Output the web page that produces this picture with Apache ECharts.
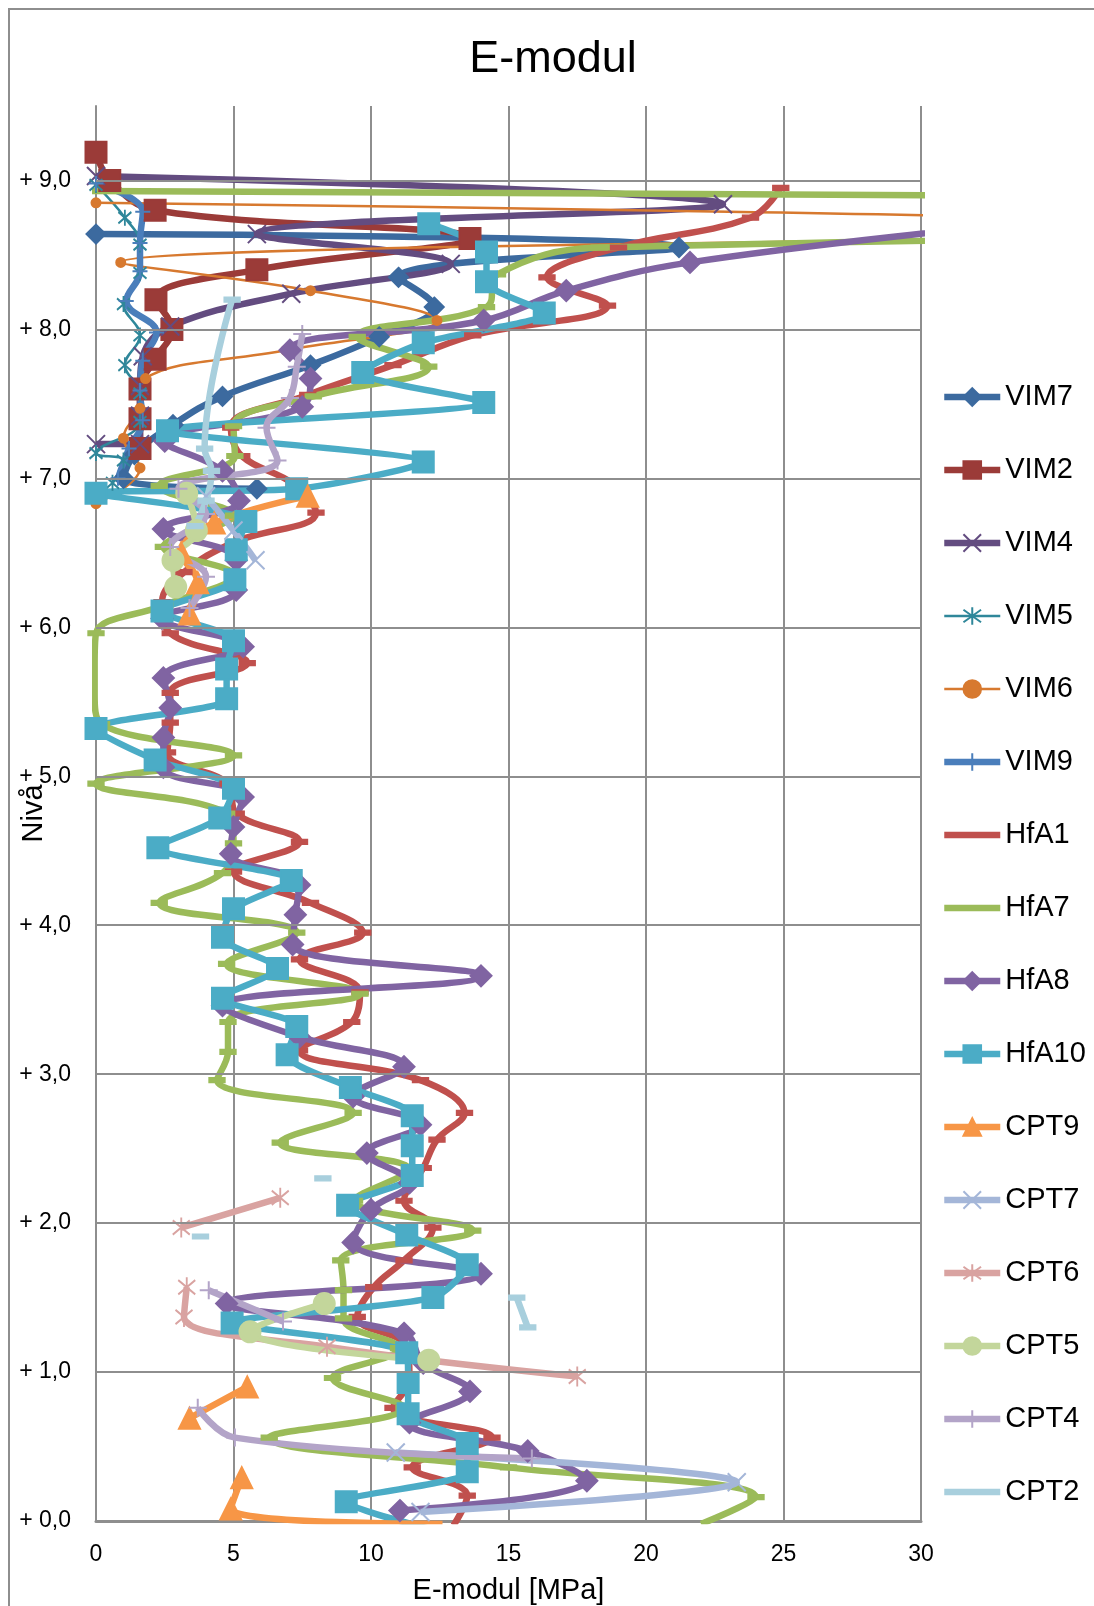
<!DOCTYPE html>
<html>
<head>
    <meta charset="UTF-8">
    <title>E-modul</title>
    <script src="https://cdn.jsdelivr.net/npm/echarts@6/dist/echarts.min.js"></script>
    <style>
        * { padding: 0; margin: 0; }
        body { background: #fff; }
        #chart { width: 1094px; height: 1606px; }
    </style>
</head>
<body>
    <div id="chart"></div>
<script>
    // E-modul [MPa] (E) against level (Z); null = break in the line
    var vim7E = [0, 21.2, 11.0, 12.3, 10.3, 7.8, 4.6, 2.8, 1.4, 1.0, 5.85];
    var vim7Z = [8.64, 8.55, 8.35, 8.15, 7.95, 7.76, 7.55, 7.36, 7.16, 7.0, 6.93];

    var vim2E = [0, 0.5, 2.15, 13.6, 5.85, 2.18, 2.76, 2.15, 1.6, 1.6, 1.6];
    var vim2Z = [9.19, 9.0, 8.8, 8.61, 8.4, 8.2, 8.0, 7.8, 7.6, 7.4, 7.2];

    var vim4E = [0, 22.8, 5.85, 12.9, 7.1, 2.7, 1.7, 1.6, 1.6, 1.6, 0];
    var vim4Z = [9.03, 8.84, 8.64, 8.44, 8.24, 8.02, 7.82, 7.62, 7.42, 7.23, 7.23];

    var vim5E = [0, 1.05, 1.6, 1.6, 1.0, 1.6, 1.05, 1.6, 1.6, 0, 1.0, 0.6];
    var vim5Z = [8.97, 8.75, 8.57, 8.38, 8.17, 7.96, 7.76, 7.57, 7.38, 7.17, 7.12, 6.97];

    var vim6E = [0, 46, 0.9, 7.8, 12.4, 6.9, 1.8, 1.6, 1.0, 1.6, 0];
    var vim6Z = [8.85, 8.67, 8.45, 8.26, 8.06, 7.86, 7.67, 7.47, 7.27, 7.07, 6.83];

    var vim9E = [0, 1.7, 1.6, 1.6, 1.1, 2.2, 1.7, 1.6, 1.7, 1.2, 0.8];
    var vim9Z = [8.98, 8.79, 8.58, 8.39, 8.19, 7.98, 7.79, 7.59, 7.39, 7.2, 7.0];

    var hfa1E = [24.9, 23.8, 19.0, 16.4, 18.6, 13.7, 10.8, 7.7, 4.9, 5.3, 7.2, 8.0, 5.0, 3.2, 2.4, 2.7,
                 5.5, 2.7, 2.7, 2.6, 4.8, 5.1, 7.4, 5.0, 7.8, 9.7, 7.4, 9.6, 9.3, 7.4, 11.8, 13.4,
                 12.4, 11.9, 11.2, 12.25, 11.2, 10.1, 9.5, 11.3, 11.4, 10.8, 14.4, 11.5, 13.5, 13.0];
    var hfa1Z = [8.95, 8.75, 8.55, 8.35, 8.16, 7.96, 7.76, 7.56, 7.34, 7.15, 6.96, 6.77, 6.57, 6.37, 6.17, 5.96,
                 5.76, 5.56, 5.36, 5.16, 4.95, 4.75, 4.56, 4.36, 4.15, 3.95, 3.77, 3.55, 3.35, 3.16, 2.96, 2.74,
                 2.56, 2.37, 2.15, 1.97, 1.75, 1.57, 1.37, 1.17, 0.96, 0.76, 0.56, 0.36, 0.17, -0.03];

    var hfa7E = [-0.3, 100, 18.3, 14.6, 14.2, 9.5, 12.1, 7.9, 5.0, 5.05, 2.3, 5.0, 2.45, 5.0, 2.5, 0,
                 -0.05, -0.05, 0.2, 5.0, 0, 4.75, 5.0, 4.6, 2.3, 7.3, 4.75, 9.6, 4.8, 4.8, 4.4, 9.35,
                 6.7, 11.4, 9.4, 13.7, 8.9, 9.0, 9.0, 11.0, 8.6, 11.2, 6.3, 15.0, 24.0, 22.0];
    var hfa7Z = [8.93, 8.76, 8.55, 8.37, 8.15, 7.95, 7.75, 7.55, 7.35, 7.15, 6.95, 6.75, 6.54, 6.35, 6.15, 5.96,
                 5.74, 5.55, 5.35, 5.14, 4.95, 4.75, 4.55, 4.35, 4.15, 3.95, 3.74, 3.54, 3.35, 3.15, 2.96, 2.74,
                 2.54, 2.36, 2.15, 1.95, 1.75, 1.55, 1.36, 1.16, 0.96, 0.76, 0.56, 0.36, 0.16, -0.02];

    var hfa8E = [33, 21.6, 17.1, 14.1, 7.05, 7.8, 7.5, 2.5, 4.6, 5.2, 2.45, 5.1, 5.1, 2.4, 5.35, 2.45,
                 2.7, 2.45, 2.45, 5.35, 5.0, 4.9, 7.4, 7.25, 7.15, 14.0, 4.6, 7.4, 11.2, 9.35, 11.8, 9.85,
                 11.4, 10.0, 9.35, 14.0, 4.75, 11.2, 11.9, 13.6, 11.4, 15.7, 17.85, 11.05];
    var hfa8Z = [8.7, 8.45, 8.26, 8.06, 7.86, 7.67, 7.48, 7.25, 7.05, 6.85, 6.66, 6.45, 6.25, 6.06, 5.87, 5.66,
                 5.46, 5.26, 5.06, 4.86, 4.66, 4.48, 4.27, 4.07, 3.87, 3.66, 3.46, 3.25, 3.05, 2.85, 2.66, 2.47,
                 2.27, 2.09, 1.87, 1.66, 1.46, 1.26, 1.06, 0.87, 0.66, 0.47, 0.27, 0.07];

    var hfa10E = [12.1, 14.2, 14.2, 16.3, 11.9, 9.7, 14.1, 2.6, 11.9, 7.3, 0, 5.45, 5.1, 5.05, 2.4, 5.0,
                  4.75, 4.75, 0, 2.15, 5.0, 4.5, 2.25, 7.1, 5.0, 4.6, 6.6, 4.6, 7.3, 6.95, 9.25, 11.5,
                  11.5, 11.5, 9.15, 11.3, 13.5, 12.25, 4.95, 11.3, 11.35, 11.35, 13.5, 13.5, 9.1, 12.5];
    var hfa10Z = [8.71, 8.52, 8.32, 8.11, 7.91, 7.71, 7.51, 7.32, 7.11, 6.93, 6.9, 6.71, 6.52, 6.32, 6.11, 5.91,
                  5.72, 5.52, 5.32, 5.11, 4.92, 4.72, 4.52, 4.3, 4.11, 3.92, 3.71, 3.51, 3.32, 3.13, 2.91, 2.72,
                  2.52, 2.32, 2.12, 1.92, 1.72, 1.5, 1.33, 1.13, 0.93, 0.72, 0.52, 0.33, 0.13, -0.07];

    var cpt9E = [7.7, 4.3, 3.1, 3.7, 3.4, null, 5.5, 3.4, null, 5.3, 4.9, 12.6];
    var cpt9Z = [6.88, 6.7, 6.5, 6.3, 6.09, null, 0.9, 0.69, null, 0.29, 0.08, -0.02];

    var cpt7E = [4.0, 5.0, 5.8, null, 10.9, 23.3, 11.8];
    var cpt7Z = [6.88, 6.65, 6.45, null, 0.46, 0.26, 0.06];

    var cpt6E = [6.7, 3.1, null, 3.3, 3.2, 8.4, 17.5];
    var cpt6Z = [2.17, 1.97, null, 1.57, 1.37, 1.17, 0.97];

    var cpt5E = [3.3, 3.65, 2.8, 2.9, null, 8.3, 5.6, 12.1];
    var cpt5Z = [6.9, 6.65, 6.45, 6.27, null, 1.46, 1.27, 1.08];

    var cpt4E = [7.5, 7.3, 7.05, 6.2, 6.6, 3.0, 4.0, 2.7, 4.0, 3.4, null, 4.1, 6.8, null, 3.7, 5.05, 15.85];
    var cpt4Z = [7.97, 7.75, 7.54, 7.34, 7.12, 6.93, 6.76, 6.54, 6.34, 6.13, null, 1.55, 1.34, null, 0.76, 0.56, 0.42];

    var cpt2E = [4.95, 3.95, 4.2, 4.0, 3.6, null, 8.25, null, 3.8, null, 15.3, 15.7];
    var cpt2Z = [8.2, 7.2, 7.05, 6.85, 6.68, null, 2.3, null, 1.91, null, 1.5, 1.3];

    var xTicks = [0, 5, 10, 15, 20, 25, 30];
    var gridLevels = [1, 2, 3, 4, 5, 6, 7, 8, 9];
    var legendNames = ['VIM7', 'VIM2', 'VIM4', 'VIM5', 'VIM6', 'VIM9', 'HfA1', 'HfA7', 'HfA8', 'HfA10',
                       'CPT9', 'CPT7', 'CPT6', 'CPT5', 'CPT4', 'CPT2'];
    var noMarkerInLegend = ['HfA1', 'HfA7', 'CPT2'];

    var PLUS = 'path://M5,0L5,10M0,5L10,5';
    var CROSS = 'path://M0,0L10,10M10,0L0,10';
    var STAR = 'path://M0,2L10,12M10,2L0,12M5,0L5,14';
    var DASH = [14, 5];
    var FONT = "'Liberation Sans', Arial, sans-serif";

    function pairs(e, z) {
        var out = [];
        for (var i = 0; i < e.length; i++) {
            out.push(e[i] == null ? ['-', '-'] : [e[i], z[i]]);
        }
        return out;
    }

    function line(name, e, z, color, symbol, size, width, smooth) {
        return {
            name: name,
            type: 'line',
            data: pairs(e, z),
            smooth: smooth,
            symbol: symbol,
            symbolSize: size,
            showSymbol: true,
            connectNulls: false,
            lineStyle: { color: color, width: width },
            itemStyle: { color: color, borderColor: color, borderWidth: 2 },
            emphasis: { disabled: true }
        };
    }

    var series = [{
        name: '_grid',
        type: 'line',
        data: [[0, 0]],
        showSymbol: false,
        lineStyle: { width: 0 },
        silent: true,
        markLine: {
            silent: true,
            symbol: ['none', 'none'],
            label: { show: false },
            lineStyle: { color: '#8e8e8e', width: 2, type: 'solid' },
            data: gridLevels.map(function (v) { return { yAxis: v }; })
        }
    },
        line('VIM7', vim7E, vim7Z, '#3c6a9f', 'diamond', 19, 6.5, 0.4),
        line('VIM2', vim2E, vim2Z, '#9b3b38', 'rect', 21, 6.5, 0.4),
        line('VIM4', vim4E, vim4Z, '#634c80', CROSS, 18, 6.5, 0.4),
        line('VIM5', vim5E, vim5Z, '#2f879a', STAR, [13, 16], 2.5, 0.4),
        line('VIM6', vim6E, vim6Z, '#d7792f', 'circle', 9, 2.5, 0.4),
        line('VIM9', vim9E, vim9Z, '#4a7ebb', PLUS, 15, 6.5, 0.4),
        line('HfA1', hfa1E, hfa1Z, '#c0504d', 'rect', DASH, 6.5, 0.4),
        line('HfA7', hfa7E, hfa7Z, '#9bbb59', 'rect', DASH, 6.5, 0.4),
        line('HfA8', hfa8E, hfa8Z, '#8064a2', 'diamond', 21, 6.5, 0.4),
        line('HfA10', hfa10E, hfa10Z, '#4bacc6', 'rect', 21, 6.5, 0.25),
        line('CPT9', cpt9E, cpt9Z, '#f79646', 'triangle', 21, 6.5, 0.4),
        line('CPT7', cpt7E, cpt7Z, '#a4b6d8', CROSS, 18, 6.5, 0.4),
        line('CPT6', cpt6E, cpt6Z, '#d9a3a1', STAR, [17, 20], 6.5, 0.4),
        line('CPT5', cpt5E, cpt5Z, '#c3d69b', 'circle', 21, 6.5, 0.4),
        line('CPT4', cpt4E, cpt4Z, '#b3a4c8', PLUS, 18, 6.5, 0.4),
        line('CPT2', cpt2E, cpt2Z, '#a8cfdd', 'rect', DASH, 6.5, 0.4)
    ];

    var legendData = legendNames.map(function (n) {
        if (noMarkerInLegend.indexOf(n) >= 0) {
            return { name: n, itemStyle: { opacity: 0 } };
        }
        return { name: n };
    });

    var chart = echarts.init(document.getElementById('chart'));
    chart.setOption({
        animation: false,
        backgroundColor: '#fff',
        title: {
            text: 'E-modul',
            left: 548,
            textAlign: 'center',
            top: 32,
            textStyle: {
                fontFamily: "'Liberation Sans Narrow', " + FONT,
                fontSize: 45,
                fontWeight: 'normal',
                color: '#000'
            }
        },
        graphic: [{
            type: 'rect',
            silent: true,
            shape: { x: 9, y: 9, width: 1200, height: 1700 },
            style: { fill: 'none', stroke: '#8e8e8e', lineWidth: 2 }
        }],
        legend: {
            orient: 'vertical',
            left: 936,
            top: 377,
            data: legendData,
            selectedMode: false,
            itemWidth: 56,
            itemHeight: 22,
            itemGap: 43,
            lineStyle: { width: 'inherit' },
            textStyle: {
                fontFamily: FONT,
                fontSize: 29,
                lineHeight: 30,
                color: '#000'
            }
        },
        grid: { left: 96, right: 173, top: 106, bottom: 85, outerBoundsMode: 'none', containLabel: false },
        xAxis: {
            type: 'value',
            min: xTicks[0],
            max: xTicks[xTicks.length - 1],
            interval: 5,
            name: 'E-modul [MPa]',
            nameLocation: 'middle',
            nameGap: 55,
            nameMoveOverlap: false,
            nameTextStyle: { fontFamily: FONT, fontSize: 29, color: '#000' },
            axisLine: { show: true, lineStyle: { color: '#8e8e8e', width: 3 } },
            axisTick: { show: false },
            axisLabel: { fontFamily: FONT, fontSize: 23, color: '#000', margin: 22 },
            splitLine: { show: true, lineStyle: { color: '#8e8e8e', width: 2 } }
        },
        yAxis: {
            type: 'value',
            min: 0,
            max: 9.5,
            interval: 1,
            name: 'Nivå',
            nameLocation: 'middle',
            nameRotate: 90,
            nameGap: 48,
            nameMoveOverlap: false,
            nameTextStyle: { fontFamily: FONT, fontSize: 29, color: '#000' },
            axisLine: { show: true, lineStyle: { color: '#8e8e8e', width: 2 } },
            axisTick: { show: false },
            axisLabel: {
                fontFamily: FONT,
                fontSize: 23,
                color: '#000',
                margin: 25,
                formatter: function (v) {
                    if (Math.abs(v - Math.round(v)) > 1e-6) return '';
                    return '+ ' + v.toFixed(1).replace('.', ',');
                }
            },
            splitLine: { show: false }
        },
        series: series
    });
</script>
</body>
</html>
